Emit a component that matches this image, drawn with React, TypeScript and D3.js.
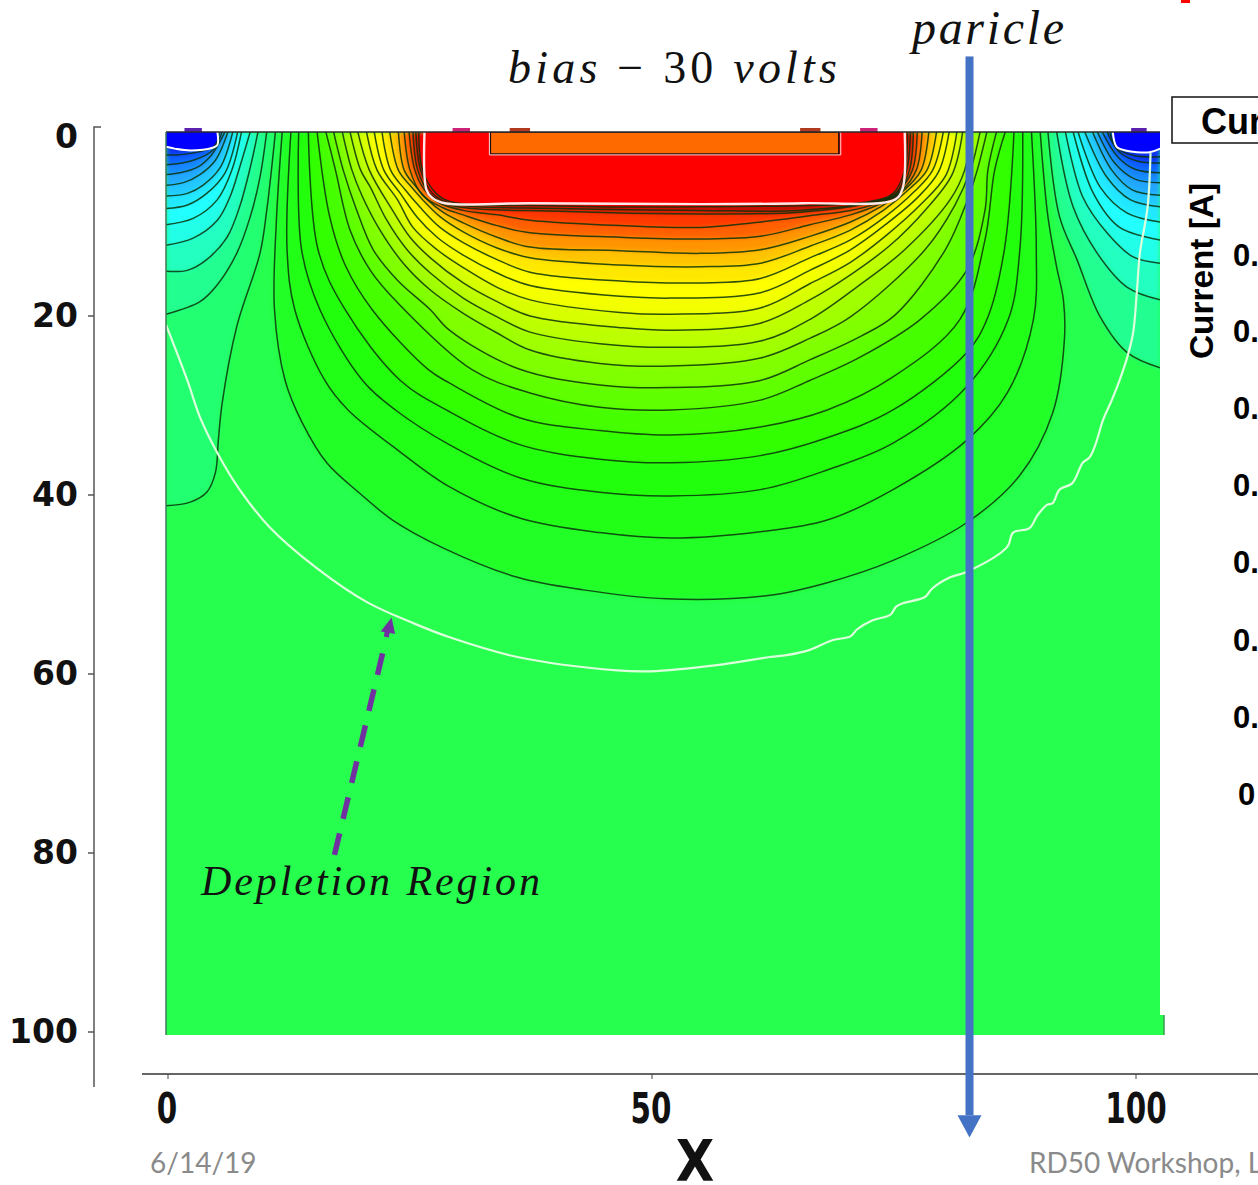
import * as d3 from 'd3';

type Pt = number[];

const WIDTH = 1258;
const HEIGHT = 1185;

const yTickValues = [0, 20, 40, 60, 80, 100];
const xTickValues = [0, 50, 100];

const currentTickLabels = ['0.', '0.', '0.', '0.', '0.', '0.', '0.', '0'];
const currentTickRows = [255, 331, 408, 485, 562, 640, 717, 794];

// potential contours around the central implant, outermost first
const centerContours: Pt[][] = [
  [[11.8,-.6],[11.2,9.3],[11,19.3],[12.1,27.2],[13.9,32],[16.4,36.4],[19.8,39.8],[23.2,42.8],[28.4,45.9],[36.1,49.2],[42.9,50.6],[51.5,51.6],[62.2,51.2],[68.1,49.8],[74.9,47.3],[82.5,43.1],[88,37.8],[91.4,30.8],[92.6,22.7],[92.5,18.2],[91.8,14.5],[90.9,8.9],[90.1,-.6]],
  [[12.7,-.6],[12.3,12.6],[13.1,19.3],[16.2,27.2],[18.6,30.5],[24,35.2],[29.1,39.1],[36.4,42.6],[44.6,44.2],[51.9,44.8],[61.2,44.1],[68.1,42.8],[74.9,39.4],[82.5,33.9],[86.7,28.6],[89.4,20.4],[89.7,12.6],[89.2,-.6]],
  [[13.5,-.6],[13.8,12.6],[15.7,19.3],[20.1,27.2],[23.5,30.5],[29.1,34.4],[36.4,38.1],[44.6,39.7],[51.9,40.1],[61.2,39.4],[68.1,37.2],[74.9,34.2],[82.5,27.9],[86.8,20.4],[88,12.6],[88.3,-.6]],
  [[14.5,-.6],[15.5,12.6],[18.3,19.3],[24,27.2],[29.1,30.7],[36.4,34.4],[44.6,36],[51.9,36.4],[61.2,35.6],[68.1,33.6],[74.9,30.5],[82.5,24.1],[84.6,20.4],[86.4,12.6],[87.4,-.6]],
  [[15.4,-.6],[16.7,8.9],[18.3,14.3],[21.1,19.3],[26.9,26],[29.1,27.5],[36.4,31.4],[44.6,32.8],[51.9,33.3],[61.2,32.4],[68.1,30.5],[74.9,26.8],[81.8,20.4],[84.4,11.5],[85.4,3.7],[86.5,-.6]],
  [[16.3,-.6],[17.3,3.7],[18.8,10.4],[20.9,14.9],[23.7,18.5],[31.4,26],[37.4,28.6],[44.6,30.2],[51.9,30.5],[61.2,29.4],[66.3,27.2],[71.5,24.6],[77.7,20.4],[82.5,14.9],[84.4,8.2],[84.7,3.7],[85.6,-.6]],
  [[17.1,-.6],[18.1,3.7],[19.5,8.2],[21.2,12.6],[23.7,16],[27.1,19.3],[29.1,21.6],[36.2,25.9],[44.6,27.7],[51.9,28],[61.2,27.2],[66.3,24.9],[71.5,22.3],[75.1,19.9],[80.3,12.6],[82.6,7],[83.6,3.7],[84.6,-.6]],
  [[18,-.6],[19,3.7],[20.1,6.7],[21.9,10.4],[24.3,14.1],[27.1,17.1],[30.5,19.7],[34,21.9],[37.4,23.8],[44.6,25.3],[51.9,25.6],[61.2,24.7],[66.3,22.5],[70.5,20.1],[78.2,12.6],[81.3,7.6],[82.9,3.7],[83.9,-.6]],
  [[18.8,-.6],[19.9,3.7],[20.9,5.6],[22.6,9.3],[24.7,12.6],[27.1,15.2],[30.5,18],[34,20.1],[37.4,21.8],[44.6,23.1],[51.9,23.5],[61.2,22.8],[66.3,20.4],[71.5,16.5],[76.1,12.6],[80.8,7],[82.3,3.7],[83,-.6]],
  [[19.6,-.6],[20.8,3.7],[23.2,8.2],[25,11.2],[27.1,13.5],[30.5,16.3],[34,18.4],[37.4,20],[46.7,21.3],[51.9,21.6],[61.2,20.8],[66.3,18.2],[70.5,15.4],[74.6,12.1],[78.2,8.2],[81,4.2],[82.1,-.6]],
  [[20.5,-.6],[21.6,3.7],[23.7,7],[25.3,10.1],[27.8,12.6],[30.5,14.6],[34,16.8],[37.4,18.2],[46.7,19.6],[51.9,19.8],[61.2,19.1],[66.3,16.4],[70.5,14],[74.3,10.9],[77.7,7.6],[80.4,4.2],[81.5,-.6]],
  [[21.3,-.6],[22.3,3.7],[24,6.3],[25.7,8.9],[27.8,11.2],[30.5,13.2],[34,15.2],[37.4,16.6],[46.7,17.8],[51.9,18],[61.2,17.4],[66.3,14.9],[70.5,12.6],[74.1,9.8],[77.4,6.8],[79.6,3.9],[80.7,-.6]],
  [[22.1,-.6],[23,3.7],[24.5,5.9],[26,7.8],[28.1,10.1],[30.5,11.8],[34,13.7],[37.4,15.1],[46.7,16.1],[55,16.3],[61.2,15.8],[66.3,13.5],[70.5,11.5],[74.1,8.9],[77.1,6.1],[79,3.7],[80.1,-.6]],
  [[22.9,-.6],[23.8,3.7],[25,5.4],[26.3,7],[28.1,8.9],[30.5,10.6],[34,12.4],[37.4,13.5],[46.7,14.3],[55,14.5],[61.2,14.1],[66.3,12.2],[70.5,10.4],[73.9,8.2],[76.7,5.7],[78.4,3.7],[79.4,-.6]],
  [[23.8,-.6],[24.4,3.7],[25.5,5.4],[26.8,7],[28.4,8.4],[30.5,9.6],[34,11.2],[37.4,12.3],[46.7,12.7],[55,13],[61.2,12.6],[66.3,11.1],[70.5,9.5],[73.6,7.8],[76.1,5.9],[77.8,3.7],[78.6,-.6]],
  [[24.4,-.6],[25,3.7],[26.3,6.5],[28.4,7.9],[30.5,8.7],[34,9.9],[37.4,10.7],[46.7,11.2],[55,11.4],[61.2,11.1],[66.3,9.8],[70.5,8.7],[73.3,7.6],[75.7,6.1],[77.3,3.7],[77.9,-.6]],
  [[24.9,-.6],[25.5,3.7],[26.5,5.9],[28.1,7.4],[30.5,8.2],[34,8.7],[37.4,9.3],[46.7,9.9],[55,10.1],[61.2,9.5],[66.3,8.8],[70.5,8.2],[73,7.5],[75.4,6.1],[76.9,3.7],[77.4,-.6]],
  [[25.3,-.6],[25.8,3.7],[27.1,6.4],[29.1,7.6],[40.5,8.3],[55,8.6],[65.3,8.4],[72.5,7.4],[75.3,6.5],[76.6,3.7],[77,-.6]],
  [[25.6,-.6],[26.1,3.7],[27.4,6.4],[29.1,7.4],[40.5,8],[55,8.2],[65.3,8.2],[72.5,7.3],[75.1,6.4],[76.3,3.7],[76.7,-.6]],
  [[25.9,-.6],[26.3,3.7],[27.7,6.3],[29.1,7.2],[40.5,7.7],[55,7.8],[72.5,7.2],[74.9,6.3],[76.1,3.7],[76.4,-.6]],
];

const centerColors = [
  '#20ff28', '#20ff18', '#24ff10', '#30ff00', '#44ff00', '#60ff00', '#80ff00', '#a0ff00', '#bcff00', '#d8ff00',
  '#f4ff00', '#ffff00', '#ffe800', '#ffc400', '#ff9400', '#ff6000', '#ff3800', '#e01800', '#a81000', '#ff0000',
];

// contours in the two top corners, from the plot edge towards the corner
const leftContours: Pt[][] = [
  [[11.1,-.6],[10.2,8.2],[9.5,13],[7.1,21.2],[5.6,29.7],[5.2,33.9],[4.9,37.5],[4,39.7],[2.3,40.8],[-.2,41.2]],
  [[10.2,-.6],[9.5,4.5],[8.5,8.9],[7.1,13],[5.1,16.5],[3.3,18.4],[-.2,19.8]],
  [[9.3,-.6],[8.5,3.4],[7.4,7.8],[6.1,11.2],[4,13.7],[2,14.9],[-.2,15]],
  [[8.5,-.6],[7.4,3.4],[6.4,6.7],[5.1,9.3],[2.6,11.3],[-.2,12.1]],
  [[7.6,-.6],[6.6,3.7],[5.1,7],[2.6,9.1],[-.2,9.8]],
  [[7.2,-.6],[5.9,4],[4,6.3],[2,7.6],[-.2,8]],
  [[6.7,-.6],[5.4,3.4],[3.6,5.4],[2,6.3],[-.2,6.6]],
  [[6.2,-.6],[4.9,2.6],[3.3,4.2],[1.6,5.1],[-.2,5.4]],
  [[5.9,-.6],[4.5,2],[3,3.4],[1.2,4],[-.2,4.2]],
  [[5.6,-.6],[4.6,1.5],[2.6,2.6],[.9,3],[-.2,3.1]],
  [[5.3,-.6],[4.8,1],[2.5,1.8],[.9,2],[-.2,2]],
];

const rightContours: Pt[][] = [
  [[90.9,-.6],[92.1,8.9],[93.9,13.7],[96.3,20.1],[99.1,24.1],[102.5,25.8]],
  [[91.8,-.6],[93.5,7.8],[96,13],[99.1,16.8],[102.5,18.2]],
  [[92.7,-.6],[94.5,6.7],[97,10.7],[99.7,13.4],[102.5,14.1]],
  [[93.5,-.6],[95.6,6.3],[98.3,10.1],[102.5,11.5]],
  [[94,-.6],[96.3,5.6],[99.1,8.5],[102.5,9.5]],
  [[94.7,-.6],[97,4.5],[99.4,7],[102.5,7.8]],
  [[95.5,-.6],[97.5,3.7],[99.6,5.9],[102.5,6.5]],
  [[96,-.6],[97.8,2.9],[99.9,4.7],[102.5,5.1]],
  [[96.5,-.6],[98.1,2.2],[99.9,3.6],[102.5,4]],
  [[97,-.6],[98.3,1.7],[100.2,2.7],[102.5,2.9]],
  [[97.3,-.6],[98,1.2],[99.9,2.1],[102.5,2.2]],
];

const cornerColors = [
  '#20ff70', '#20ff90', '#20ffc0', '#20ffe8', '#20ffff', '#20e8ff', '#20c8ff', '#20a8ff', '#1888ff', '#1060ff', '#0830f0',
];

const depletionEdge: Pt[] = [
  [-.2,21],[2,27.2],[3.3,31.3],[5.2,35.5],[7.4,39.4],[10.5,43.6],[15.4,48.2],[20.6,52],[25.3,54.3],[29.1,55.9],[36.1,58.1],[46.4,59.6],[49.8,59.7],[56.7,59],[62.2,58.1],
  [63.9,57.9],[66.3,57.3],[68.7,56.2],[70.5,55.8],[71.2,55],[72.8,54],[74.6,53.4],[75.2,52.5],[75.9,52.1],[78.2,51.4],[78.9,50.5],[80.8,49.2],[82.5,48.6],
  [86.7,45.8],[87.3,44.2],[89,43.7],[89.8,42.3],[90.8,41.1],[91.4,40.9],[92.1,39.4],[93.4,38.7],[94.5,36.4],[95.2,35.8],[95.8,34.4],[96.6,31.6],[97.5,29.4],[98.3,27.2],[99.1,24.6],[99.7,21.9],[100.1,17.1],[100.4,13],[101.2,7.8],[101.5,1.8],
];
const leftContactEdge: Pt[] = [[5.1,-.6],[5.1,.9],[4.6,1.2],[2.3,1.5],[.7,1.3],[-.2,1.1]];
const rightContactEdge: Pt[] = [[97.6,-.6],[98,1.1],[98.9,1.5],[101.4,1.7],[102.5,1.3]];
const implantEdge: Pt[] = [[26.5,-.6],[26.7,5.9],[27.3,6.8],[28.6,7.4],[37.4,7.4],[55,7.5],[65.6,7.4],[75.1,7],[75.9,5.7],[76.1,-.6]];

// metal pads above the surface: x range and colour
const padStarts = [1.7, 29.4, 35.3, 65.3, 71.5, 99.5];
const padEnds = [3.5, 31.2, 37.4, 67.4, 73.3, 101.1];
const padColors = ['#5a20b0', '#cc2277', '#b03a20', '#b03a20', '#cc2277', '#5a20b0'];

const x = d3.scaleLinear().domain([0, 100]).range([168, 1136]);
const y = d3.scaleLinear().domain([0, 100]).range([137, 1032]);

const line = d3.line<Pt>().x(d => x(d[0])).y(d => y(d[1])).curve(d3.curveCatmullRom.alpha(0.5));

const PLOT = { left: 166, right: 1160, top: 132, bottom: 1035 };
const CONTOUR = '#0a330a';
const SERIF = '"Liberation Serif", serif';
const BOLD = '"DejaVu Sans", sans-serif';
const ARIAL = '"Liberation Sans", sans-serif';

const App = () => {
  return (
    <svg width={WIDTH} height={HEIGHT} style={{ position: 'absolute', left: 0, top: 0, background: '#fff' }}>
      <defs>
        <clipPath id="plot">
          <rect x={PLOT.left} y={PLOT.top} width={PLOT.right - PLOT.left} height={PLOT.bottom - PLOT.top} />
        </clipPath>
        <filter id="soft" x="-5%" y="-5%" width="110%" height="110%">
          <feGaussianBlur stdDeviation="2.5" />
        </filter>
      </defs>

      {/* field */}
      <rect x={PLOT.left} y={PLOT.top} width={PLOT.right - PLOT.left} height={PLOT.bottom - PLOT.top} fill="#26ff4e" />
      <rect x={PLOT.right} y={1015} width={4} height={20} fill="#26ff4e" />
      <line x1={1164} x2={1164} y1={1015} y2={1035} stroke="#3c9a50" strokeWidth={1.5} />

      <g clipPath="url(#plot)">
        <g filter="url(#soft)">
          {centerContours.map((c, i) => (
            <path key={`cf${i}`} d={`${line(c)}Z`} fill={centerColors[i]} />
          ))}
          {leftContours.map((c, i) => (
            <path key={`lf${i}`} d={`${line(c)}L${x(-0.2)},${y(-0.6)}Z`} fill={cornerColors[i]} />
          ))}
          {rightContours.map((c, i) => (
            <path key={`rf${i}`} d={`${line(c)}L${x(102.5)},${y(-0.6)}Z`} fill={cornerColors[i + 1] ?? cornerColors[i]} />
          ))}
        </g>
        <path d={`${line(implantEdge)}Z`} fill="#ff0000" />
        <path d={`${line(leftContactEdge)}L${x(-0.2)},${y(-0.6)}Z`} fill="#0000ff" />
        <path d={`${line(rightContactEdge)}L${x(102.5)},${y(-0.6)}Z`} fill="#0000ff" />

        {[...centerContours, ...leftContours, ...rightContours].map((c, i) => (
          <path key={`l${i}`} d={line(c) ?? ''} fill="none" stroke={CONTOUR} strokeWidth={1.5} strokeOpacity={0.85} />
        ))}

        <path d={line(depletionEdge) ?? ''} fill="none" stroke="#dcffdc" strokeWidth={2.2} />
        <path d={line(leftContactEdge) ?? ''} fill="none" stroke="#ffffff" strokeWidth={2} />
        <path d={line(rightContactEdge) ?? ''} fill="none" stroke="#ffffff" strokeWidth={2} />
        <path d={line(implantEdge) ?? ''} fill="none" stroke="#ffe8e8" strokeWidth={2.4} />

        {/* inner n+ electrode */}
        <rect x={x(33.3)} y={PLOT.top} width={x(69.3) - x(33.3)} height={22} fill="#ff6a00" stroke="#1a1010" strokeWidth={1.5} />
        <path
          d={`M${x(33.2)},${PLOT.top}V${y(2)}H${x(69.5)}V${PLOT.top}`}
          fill="none"
          stroke="#ffd8d8"
          strokeWidth={1}
        />
      </g>

      {padStarts.map((s, i) => (
        <rect key={`pad${i}`} x={x(s)} y={128} width={x(padEnds[i]) - x(s)} height={4} fill={padColors[i]} />
      ))}

      <line x1={PLOT.left} x2={PLOT.right} y1={PLOT.top} y2={PLOT.top} stroke="#2a2a2a" strokeWidth={1.5} />
      <line x1={PLOT.left} x2={PLOT.left} y1={PLOT.top} y2={PLOT.bottom} stroke="#3c7a58" strokeWidth={1.5} />

      {/* y axis */}
      <path d="M101,127H94V1087" fill="none" stroke="#555" strokeWidth={1.5} />
      {yTickValues.slice(1).map(v => (
        <line key={`yt${v}`} x1={88} x2={94} y1={y(v)} y2={y(v)} stroke="#555" strokeWidth={1.5} />
      ))}
      {yTickValues.map(v => (
        <text key={`yl${v}`} x={78} y={y(v) + 11} textAnchor="end" fontFamily={BOLD} fontWeight={700} fontSize={33} fill="#111">
          {v}
        </text>
      ))}

      {/* x axis */}
      <line x1={142} x2={WIDTH} y1={1074} y2={1074} stroke="#666" strokeWidth={2} />
      {xTickValues.map(v => (
        <g key={`xt${v}`}>
          <line x1={x(v)} x2={x(v)} y1={1074} y2={1079} stroke="#444" strokeWidth={1} />
          <text
            transform={`translate(${x(v) - (v === 100 ? 0 : 1)},1123) scale(0.92,1.36)`}
            textAnchor="middle"
            fontFamily={BOLD}
            fontWeight={700}
            fontSize={32}
            fill="#111"
          >
            {v}
          </text>
        </g>
      ))}
      <text transform="translate(695,1181) scale(1,1.14)" textAnchor="middle" fontFamily={BOLD} fontWeight={700} fontSize={50} fill="#111">
        X
      </text>

      {/* slide footer */}
      <text x={150} y={1173} fontFamily="Lato, sans-serif" fontSize={28} fill="#8a8a8a">6/14/19</text>
      <text x={1029} y={1173} fontFamily="Lato, sans-serif" fontSize={28} fill="#8a8a8a">RD50 Workshop, Lancaster</text>

      {/* annotations */}
      <text x={508} y={83} fontFamily={SERIF} fontStyle="italic" fontSize={46} textLength={329} lengthAdjust="spacing" fill="#111">
        bias  <tspan fontStyle="normal">− 30</tspan> volts
      </text>
      <text x={912} y={44} fontFamily={SERIF} fontStyle="italic" fontSize={48} textLength={152} lengthAdjust="spacing" fill="#111">
        paricle
      </text>
      <text x={201} y={895} fontFamily={SERIF} fontStyle="italic" fontSize={42} textLength={339} lengthAdjust="spacing" fill="#111">
        Depletion  Region
      </text>

      {/* particle track */}
      <rect x={x(82.8) - 4} y={y(-9)} width={8} height={y(109.3) - y(-9)} fill="#4472c4" />
      <path d={`M${x(82.8) - 12},${y(109.3)}H${x(82.8) + 12}L${x(82.8)},${y(111.8)}Z`} fill="#4472c4" />

      {/* depletion pointer */}
      <line x1={x(17.2)} y1={y(80.2)} x2={x(22.5)} y2={y(56.2)} stroke="#7030a0" strokeWidth={5.5} strokeDasharray="22 15" />
      <path d={`M${x(23.1)},${y(53.7)}l-11,14l4,.5l-.8,4.5l5,1l.8,-4.5l5.5,1Z`} fill="#7030a0" />

      {/* neighbouring panel, cut off by the slide edge */}
      <rect x={1172} y={97} width={120} height={46} fill="#fff" stroke="#111" strokeWidth={1.5} />
      <text x={1201} y={134} fontFamily={ARIAL} fontWeight={700} fontSize={36} fill="#000">Current</text>
      <text transform="translate(1213,359) rotate(-90)" fontFamily={ARIAL} fontWeight={700} fontSize={33} textLength={176} lengthAdjust="spacingAndGlyphs" fill="#000">
        Current [A]
      </text>
      {currentTickLabels.map((t, i) => (
        <text key={`ct${i}`} x={t === '0' ? 1238 : 1233} y={currentTickRows[i] + 11} fontFamily={ARIAL} fontWeight={700} fontSize={31} fill="#000">
          {t}
        </text>
      ))}
      <rect x={1181} y={0} width={9} height={3} fill="#ff0000" />
    </svg>
  );
};

export default App;
